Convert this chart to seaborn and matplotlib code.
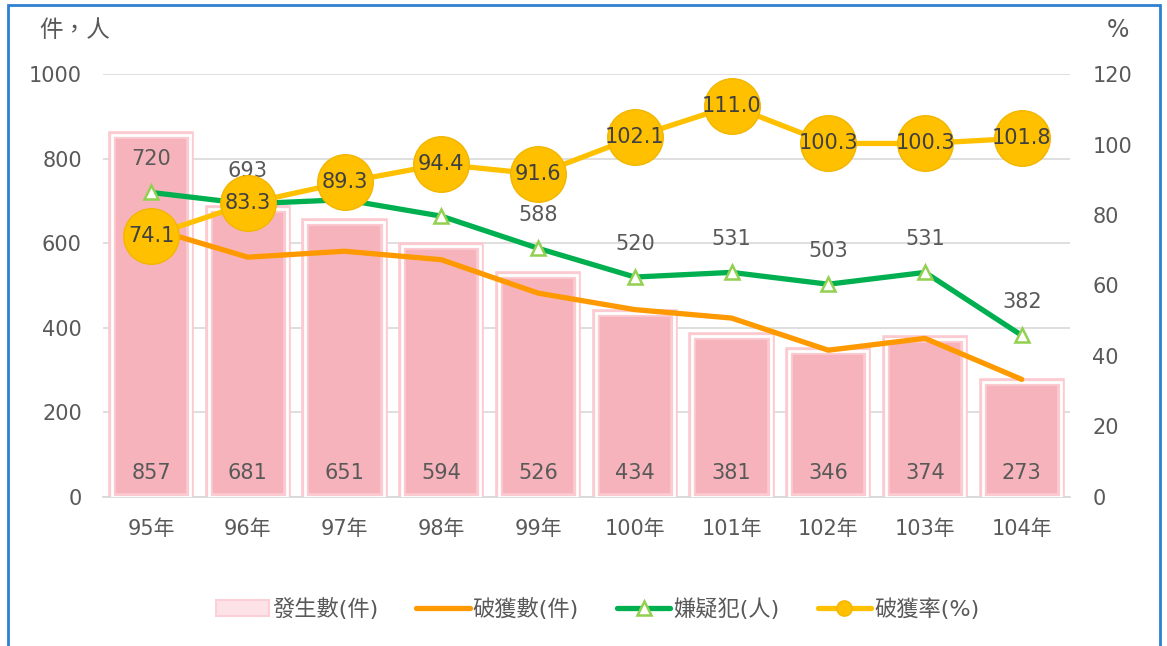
import numpy as np
import pandas as pd
import matplotlib
matplotlib.use("Agg")
import matplotlib.pyplot as plt
import seaborn as sns
from matplotlib.patches import Patch, Rectangle
from matplotlib.lines import Line2D

# 資料
years = ['95年', '96年', '97年', '98年', '99年', '100年', '101年', '102年', '103年', '104年']
occurred = [857, 681, 651, 594, 526, 434, 381, 346, 374, 273]      # 發生數(件)
solved = [635, 567, 581, 561, 482, 443, 423, 347, 375, 278]        # 破獲數(件)
suspects = [720, 693, 703, 664, 588, 520, 531, 503, 531, 382]      # 嫌疑犯(人)
rate = [74.1, 83.3, 89.3, 94.4, 91.6, 102.1, 111.0, 100.3, 100.3, 101.8]  # 破獲率(%)
# 97年、98年的嫌疑犯標籤被圓點遮住，圖上看不到
hidden_labels = ['97年', '98年']

sns.set_theme(style='white')
plt.rcParams['font.family'] = ['DejaVu Sans', 'Noto Sans CJK TC']
txt = '#595959'

df = pd.DataFrame({'年': years, '發生數': occurred})

fig = plt.figure(figsize=(11.67, 6.46), dpi=100)
ax = fig.add_axes([0.088, 0.2307, 0.829, 0.6547])

# 柱狀 (光暈邊 + 白色內框)
sns.barplot(data=df, x='年', y='發生數', ax=ax, color='#f7b3bc', width=0.81,
            saturation=1, edgecolor='#fccad1', linewidth=5.5, zorder=2)
sns.barplot(data=df, x='年', y='發生數', ax=ax, color='none', width=0.81,
            saturation=1, edgecolor='white', linewidth=2.0, fill=False, zorder=3)

pos = np.arange(len(years))
for x, v in zip(pos, occurred):
    ax.text(x, 57, f'{v}', ha='center', va='center', fontsize=15, color=txt, zorder=6)

ax.plot(pos, solved, color='#ff9900', lw=3.8, zorder=4, solid_capstyle='round')
ax.plot(pos, suspects, color='#00b050', lw=3.8, zorder=5, marker='^', markersize=10,
        markerfacecolor='white', markeredgecolor='#92d050', markeredgewidth=1.8)
for x, y, v in zip(pos, years, suspects):
    if y in hidden_labels:
        continue
    ax.text(x, v + 78, f'{v}', ha='center', va='center', fontsize=15, color=txt, zorder=6)

ax.set_ylim(0, 1000)
ax.set_xlim(-0.5, len(years) - 0.5)
ax.set_yticks(range(0, 1001, 200))
ax.grid(axis='y', color='#dcdcdc', lw=1.3)
ax.set_axisbelow(True)
ax.set_xlabel('')
ax.set_ylabel('')
for s in ['top', 'left', 'right']:
    ax.spines[s].set_visible(False)
ax.spines['bottom'].set_color('#d9d9d9')
ax.spines['bottom'].set_linewidth(1.3)
ax.tick_params(axis='y', length=0, pad=15, labelsize=15, labelcolor=txt)
ax.tick_params(axis='x', length=0, pad=16, labelsize=15, labelcolor=txt)

# 右軸 破獲率
ax2 = ax.twinx()
ax2.plot(pos, rate, color='#ffc000', lw=3.8, marker='o', markersize=40,
         markerfacecolor='#ffc000', markeredgecolor='#f2b600', markeredgewidth=1)
for x, v in zip(pos, rate):
    ax2.text(x, v, f'{v:.1f}', ha='center', va='center', fontsize=15, color='#404040')
ax2.set_ylim(0, 120)
ax2.set_yticks(range(0, 121, 20))
ax2.tick_params(axis='y', length=0, pad=16, labelsize=15, labelcolor=txt)
for s in ['top', 'left', 'right', 'bottom']:
    ax2.spines[s].set_visible(False)
ax2.grid(False)

fig.text(0.034, 0.953, '件，人', fontsize=17, color=txt, va='center', ha='left')
fig.text(0.958, 0.953, '%', fontsize=17, color=txt, va='center', ha='center')

handles = [
    Patch(facecolor='#fde3e7', edgecolor='#fcd0d7', lw=1.5),
    Line2D([], [], color='#ff9900', lw=3.8),
    Line2D([], [], color='#00b050', lw=3.8, marker='^', markersize=10,
           markerfacecolor='white', markeredgecolor='#92d050', markeredgewidth=1.8),
    Line2D([], [], color='#ffc000', lw=3.8, marker='o', markersize=11,
           markerfacecolor='#ffc000', markeredgecolor='#f2b600'),
]
labels = ['發生數(件)', '破獲數(件)', '嫌疑犯(人)', '破獲率(%)']
fig.legend(handles, labels, loc='center', bbox_to_anchor=(0.512, 0.058), ncol=4,
           frameon=False, fontsize=16, labelcolor=txt, handlelength=2.4,
           columnspacing=1.7, handletextpad=0.15)

fig.patches.append(Rectangle((0.007, -0.02), 0.987, 1.012, transform=fig.transFigure,
                             fill=False, edgecolor='#2f80d0', lw=2))

fig.savefig('out.png', dpi=100)
